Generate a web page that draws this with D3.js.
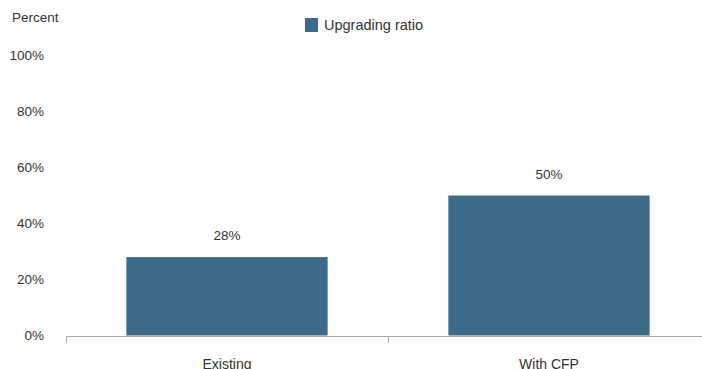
<!DOCTYPE html>
<html>
<head>
<meta charset="utf-8">
<script src="https://cdn.jsdelivr.net/npm/d3@7"></script>
<style>
  html, body { margin: 0; padding: 0; background: #fff; }
  svg { display: block; font-family: "Liberation Sans", Arial, sans-serif; }
</style>
</head>
<body>
<svg id="chart" width="702" height="369"></svg>
<script>
const categories = ["Existing", "With CFP"];
const upgradingRatio = [28, 50];
const yTicks = [0, 20, 40, 60, 80, 100];
const seriesName = "Upgrading ratio";

const svg = d3.select("#chart");
const barColor = "#3d6b8a";
const textColor = "#333";

const x = d3.scaleBand().domain(categories).range([66, 710]).paddingInner(0.375).paddingOuter(0.1875);
const y = d3.scaleLinear().domain([0, 100]).range([335.5, 55.5]);

// y tick labels (no axis line)
svg.append("g").selectAll("text").data(yTicks).join("text")
  .attr("x", 44).attr("y", d => y(d)).attr("dy", "0.35em")
  .attr("text-anchor", "end").attr("font-size", 13.5).attr("fill", textColor)
  .text(d => d + "%");

svg.append("text").attr("x", 12).attr("y", 22).attr("font-size", 13.5).attr("fill", textColor).text("Percent");

// bars
svg.append("g").selectAll("rect").data(upgradingRatio).join("rect")
  .attr("x", (d, i) => x(categories[i])).attr("width", x.bandwidth())
  .attr("y", d => y(d)).attr("height", d => y(0) - y(d))
  .attr("fill", barColor);

// value labels
svg.append("g").selectAll("text").data(upgradingRatio).join("text")
  .attr("x", (d, i) => x(categories[i]) + x.bandwidth() / 2)
  .attr("y", d => y(d) - 17)
  .attr("text-anchor", "middle").attr("font-size", 13.5).attr("fill", textColor)
  .text(d => d + "%");

// x axis
const xAxis = d3.axisBottom(x).tickSize(0).tickPadding(24);
const gx = svg.append("g").attr("transform", `translate(0,${y(0)})`).call(xAxis);
gx.select(".domain").remove();
gx.selectAll("text").attr("font-size", 14).attr("fill", textColor).attr("font-family", "Liberation Sans, Arial, sans-serif");
svg.append("line").attr("x1", 66).attr("x2", 702).attr("y1", 336.5).attr("y2", 336.5).attr("stroke", "#aaa");
// boundary ticks between categories
const boundaries = [66, (x(categories[0]) + x.bandwidth() + x(categories[1])) / 2];
svg.append("g").selectAll("line").data(boundaries).join("line")
  .attr("x1", d => Math.round(d) + 0.5).attr("x2", d => Math.round(d) + 0.5)
  .attr("y1", 336).attr("y2", 343).attr("stroke", "#aaa");

// legend
const lg = svg.append("g").attr("transform", "translate(305,18)");
lg.append("rect").attr("width", 13).attr("height", 14).attr("fill", barColor);
lg.append("text").attr("x", 19).attr("y", 11.5).attr("font-size", 14.5).attr("fill", textColor).text(seriesName);
</script>
</body>
</html>
